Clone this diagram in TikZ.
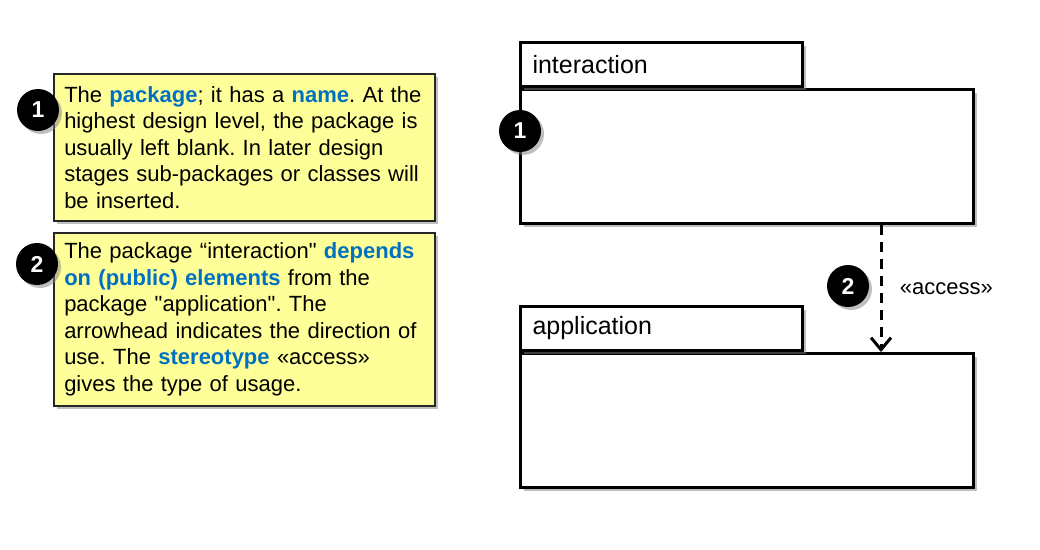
\documentclass[tikz,border=0pt]{standalone}
\usepackage{fontspec}
\setmainfont{Liberation Sans}[Ligatures=TeXOff]
\usetikzlibrary{arrows.meta,shadows,positioning}
\definecolor{notefill}{RGB}{255,255,153}
\definecolor{keyblue}{RGB}{0,112,192}
\newcommand*{\kw}[1]{\textcolor{keyblue}{\textbf{#1}}}
\frenchspacing

\begin{document}
\begin{tikzpicture}[x=1pt,y=-1pt,
    shade/.style={drop shadow={shadow xshift=3pt,shadow yshift=-3pt,fill=black!50,opacity=.5}},
    note/.style={draw=black!85,line width=1.5pt,fill=notefill,shade,anchor=north west,
      text width=360pt,inner xsep=10.5pt,align=left,font=\fontsize{22}{26.5}\selectfont},
    marker/.style={circle,fill=black,text=white,minimum size=42pt,inner sep=0pt,shade,
      font=\fontsize{23}{24}\selectfont\bfseries},
    pkgtab/.style={draw,line width=3pt,fill=white,shade,anchor=south west,
      text width=258pt,inner xsep=12pt,minimum height=44pt,align=left,
      font=\fontsize{25}{30}\selectfont},
    pkgbody/.style={draw,line width=3pt,fill=white,shade,anchor=north west,
      minimum width=453pt,minimum height=134pt,inner sep=0pt},
    dep/.style={line width=3pt,dash pattern=on 10pt off 7pt,-{Straight Barb[length=12pt,width=20pt,line width=3pt]}}]
  \useasboundingbox (0,0) rectangle (1040,549);

  % explanations
  \node[note,minimum height=147pt] (n1) at (53,73)
    {The \kw{package}; it has a \kw{name}. At the\\
     highest design level, the package is\\
     usually left blank. In later design\\
     stages sub-packages or classes will\\
     be inserted.};
  \node[note,minimum height=173pt] (n2) at (53,232)
    {The package “interaction" \kw{depends}\\
     \kw{on (public) elements} from the\\
     package "application". The\\
     arrowhead indicates the direction of\\
     use. The \kw{stereotype} «access»\\
     gives the type of usage.};
  \node[marker] (m1) at (38,110) {1};
  \node[marker] (m2) at (37,264) {2};

  % packages
  \node[pkgbody] (intbody) at (519,88) {};
  \node[pkgtab] (inttab) at (intbody.north west) {interaction};
  \node[pkgbody] (appbody) at (519,352) {};
  \node[pkgtab] (apptab) at (appbody.north west) {application};

  \coordinate (depx) at (881,0);
  \draw[dep] (intbody.south -| depx) -- node[right=14pt,font=\fontsize{22}{26}\selectfont] (acc) {«access»} (appbody.north -| depx);

  \node[marker] (p1) at (520,131) {1};
  \node[marker] (p2) at (848,286) {2};
\end{tikzpicture}
\end{document}
